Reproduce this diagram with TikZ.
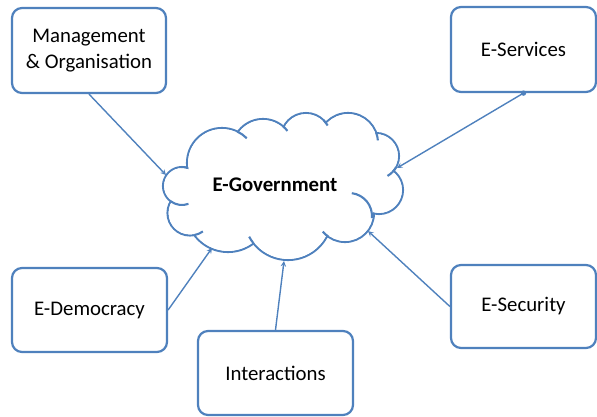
\documentclass[tikz,border=0pt]{standalone}
\usepackage{fontspec}
\setmainfont{Carlito}
\usetikzlibrary{arrows}

\definecolor{boxblue}{RGB}{79,129,189}

\begin{document}
\begin{tikzpicture}[
            x = 1pt, y = 1pt, yscale = -1, % pixel units, y downwards
            > = stealth, % arrow head style
            line width = 1.4pt % line style
        ]

        \tikzstyle{topic}=[
            draw = boxblue,
            line width = 2.2pt,
            rounded corners = 10pt,
            fill = white,
            align = center,
            font = \fontsize{20.8}{25.4}\selectfont
        ]
        \tikzstyle{puff}=[draw = boxblue, line width = 2.1pt]
        \tikzstyle{link}=[draw = boxblue, line width = 1.4pt]

        \useasboundingbox (0,0) rectangle (597,416);

        % cloud: outlined puffs, white inside, then the inner strokes
        \def\govpuffs{182/186/19, 222/163/35, 263/150/31, 306/138/25, 348/143/30, 376/156/23,
            379/190/24, 345/213/29, 288/216/44, 228/210/42, 190/213/22.5}
        \foreach \cx/\cy/\r in \govpuffs
            \draw[puff] (\cx,\cy) circle[radius=\r];
        \foreach \cx/\cy/\r in \govpuffs
            \fill[white] (\cx,\cy) circle[radius=\r-1.05];
        \fill[white] (182,186) -- (222,163) -- (263,150) -- (306,138) -- (348,143) -- (376,156)
            -- (379,190) -- (345,213) -- (288,216) -- (228,210) -- (190,213) -- cycle;
        \foreach \cx/\cy/\r/\a/\b in {222/163/35/-64/-45, 263/150/31/-49/-38, 306/138/25/-45/-30,
            348/143/30/-19/-5, 376/156/23/30/60, 349/216/23/-83/5, 345/213/29/125/140,
            288/216/44/142/152, 190/213/22.5/78/55, 182/186/19/126/70, 182/186/19/-95/-72}
            \draw[puff] (\cx,\cy) ++(\a:\r) arc[start angle=\a, end angle=\b, radius=\r];

        \node[font = \fontsize{20.8}{25.4}\selectfont\bfseries] (gov) at (275,185) {E-Government};

        \node[topic, minimum width = 154pt, minimum height = 85pt] (mgmt) at (89,50.5) {Management\\\& Organisation};
        \node[topic, minimum width = 145pt, minimum height = 85pt] (serv) at (523.5,49.5) {E-Services};
        \node[topic, minimum width = 155pt, minimum height = 84pt] (dem) at (89.5,310) {E-Democracy};
        \node[topic, minimum width = 155pt, minimum height = 84pt] (inter) at (275.5,373) {Interactions};
        \node[topic, minimum width = 145pt, minimum height = 83pt] (sec) at (523.5,306.5) {E-Security};

        % where the arrows meet the cloud
        \coordinate (govW) at (166,175);
        \coordinate (govE) at (397,168);
        \coordinate (govSW) at (212,248);
        \coordinate (govS) at (284,261);
        \coordinate (govSE) at (368,231);

        \draw[link, ->] (mgmt.south) -- (govW);
        \draw[link, ->] (serv.south) -- (govE);
        \fill[boxblue] (serv.south) circle[radius=2.7]; % dot at the tail
        \draw[link, ->] (dem.east) -- (govSW);
        \draw[link, ->] (inter.north) -- (govS);
        \draw[link, ->] (sec.west) -- (govSE);

    \end{tikzpicture}
\end{document}
